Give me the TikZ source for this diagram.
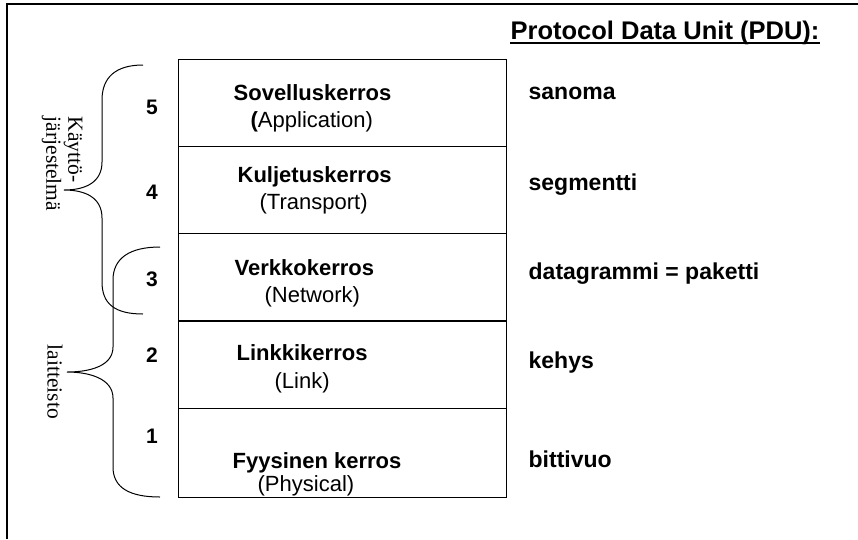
\documentclass[tikz,border=0pt]{standalone}
\usepackage{fontspec}
\setmainfont{Liberation Sans}
\newfontfamily\serifface{Liberation Serif}
\usetikzlibrary{calc}
\begin{document}
\begin{tikzpicture}[x=1pt,y=-1pt,line width=1.3pt,
  layerbox/.style={draw, minimum width=328pt, minimum height=87pt, inner sep=0pt, anchor=north west},
  lbl/.style={font=\fontsize{22}{26}\selectfont\bfseries, anchor=base west, inner sep=0pt},
  sub/.style={font=\fontsize{22}{26}\selectfont, anchor=base west, inner sep=0pt},
  num/.style={font=\fontsize{21}{25}\selectfont\bfseries, inner sep=0pt},
  pdu/.style={font=\fontsize{23}{26}\selectfont\bfseries, anchor=base west, inner sep=0pt},
  hdrstyle/.style={font=\fontsize{25.5}{28}\selectfont\bfseries, anchor=base west, inner sep=0pt},
  vlabel/.style={font=\fontsize{21.5}{22}\selectfont\serifface, rotate=-90, align=left, inner sep=0pt},
  brace/.style={line width=1pt}]
\useasboundingbox (0,0) rectangle (858,539);
\draw (7,539) -- (7,4) -- (858,4);

% header
\node[hdrstyle] (hdr) at (510,39) {Protocol Data Unit (PDU):};
\draw[line width=1.6pt] ($(hdr.base west)+(0,4)$) -- ($(hdr.base east)+(0,4)$);

% layer boxes
\node[layerbox] (L5) at (178,59) {};
\node[layerbox] (L4) at (178,146) {};
\node[layerbox] (L3) at (178,233) {};
\node[layerbox] (L2) at (178,321) {};
\node[layerbox, minimum height=89pt] (L1) at (178,408) {};

% layer labels
\node[lbl] (t5) at (233,100) {Sovelluskerros};
\node[sub] (s5) at (250,127) {\textbf{(}Application)};
\node[lbl] (t4) at (237,182) {Kuljetuskerros};
\node[sub] (s4) at (259,209) {(Transport)};
\node[lbl] (t3) at (234,275) {Verkkokerros};
\node[sub] (s3) at (264,302) {(Network)};
\node[lbl] (t2) at (236,360) {Linkkikerros};
\node[sub] (s2) at (274,388) {(Link)};
\node[lbl] (t1) at (232,468) {Fyysinen kerros};
\node[sub] (s1) at (257,491) {(Physical)};

% numbers
\node[num] (n5) at (152,107) {5};
\node[num] (n4) at (152,192) {4};
\node[num] (n3) at (152,279) {3};
\node[num] (n2) at (152,355) {2};
\node[num] (n1) at (152,436) {1};

% PDU names
\node[pdu] (p5) at (528,99) {sanoma};
\node[pdu] (p4) at (528,190) {segmentti};
\node[pdu] (p3) at (528,279) {datagrammi = paketti};
\node[pdu] (p2) at (528,368) {kehys};
\node[pdu] (p1) at (528,467) {bittivuo};

% braces
\draw[brace] (143,65) .. controls (115,65) and (102,78) .. (102,100) -- (102,162)
  .. controls (102,182) and (86,190) .. (64,190)
  .. controls (86,190) and (102,198) .. (102,218) -- (102,282)
  .. controls (102,304) and (115,314) .. (143,314);
\draw[brace] (160,247) .. controls (130,247) and (113,258) .. (113,280) -- (113,347)
  .. controls (113,366) and (90,372) .. (67,372)
  .. controls (90,372) and (113,379) .. (113,398) -- (113,467)
  .. controls (113,488) and (130,497) .. (160,497);

% vertical labels
\node[vlabel] (os) at (62,164) {Käyttö-\\järjestelmä};
\node[vlabel] (hw) at (55,382) {laitteisto};
\end{tikzpicture}
\end{document}
